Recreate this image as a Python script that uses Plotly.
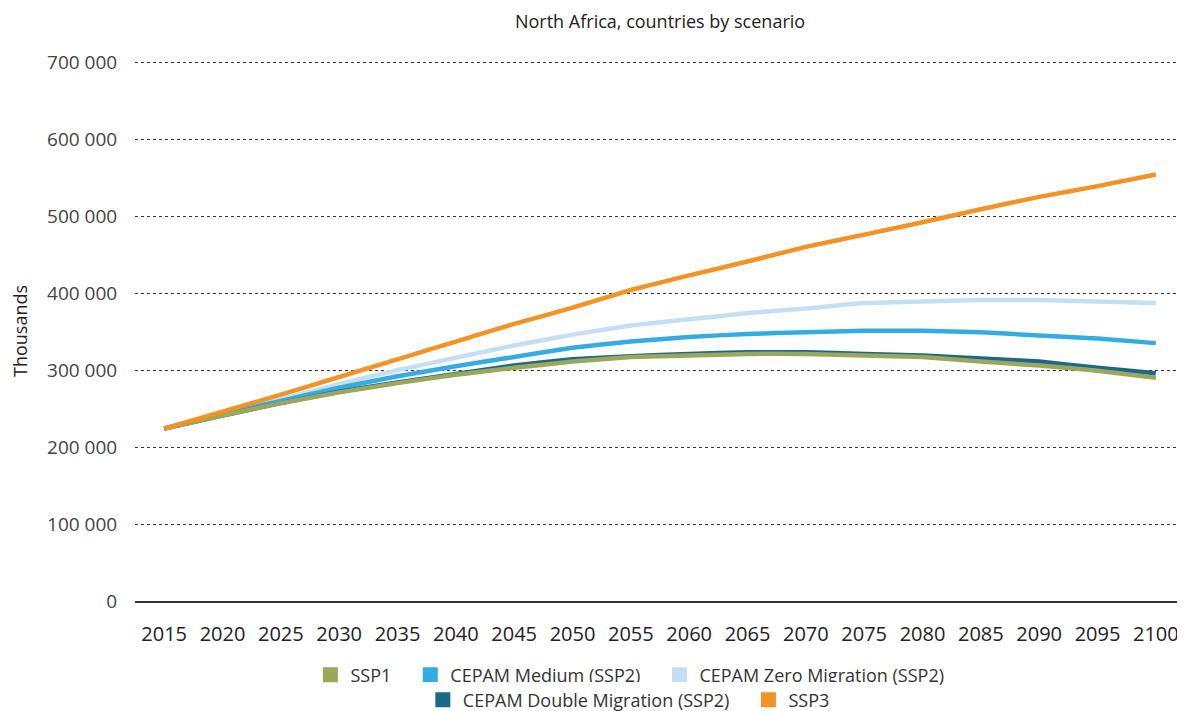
import plotly.graph_objects as go

years = [str(y) for y in range(2015, 2101, 5)]
ssp1 = [224, 241, 257, 271, 283, 294, 303, 311, 317, 319, 321, 321, 319, 317, 311, 306, 299, 290]
cepam_medium = [224, 243, 260, 277, 292, 305, 317, 329, 337, 343, 347, 349, 351, 351, 349, 345, 341, 335]
cepam_zero = [224, 244, 262, 282, 300, 316, 332, 346, 358, 366, 374, 380, 387, 389, 391, 391, 389, 387]
cepam_double = [224, 241, 257, 272, 284, 295, 306, 314, 318, 321, 323, 323, 321, 319, 315, 311, 303, 296]
ssp3 = [224, 246, 268, 291, 314, 337, 360, 381, 404, 423, 441, 460, 476, 492, 509, 525, 539, 554]

y_ticks = [0, 100000, 200000, 300000, 400000, 500000, 600000, 700000]
y_tick_labels = ["0", "100 000", "200 000", "300 000", "400 000", "500 000", "600 000", "700 000"]

series = [
    ("SSP1", ssp1, "#9BA75B", "legend"),
    ("CEPAM Medium (SSP2)", cepam_medium, "#33ACE3", "legend"),
    ("CEPAM Zero Migration (SSP2)", cepam_zero, "#C4DFF4", "legend"),
    ("CEPAM Double Migration (SSP2)", cepam_double, "#1C6889", "legend2"),
    ("SSP3", ssp3, "#F39325", "legend2"),
]
draw_order = [2, 1, 3, 0, 4]

font = "'Open Sans', Lato, sans-serif"
fig = go.Figure()
for i in draw_order:
    name, vals, color, _ = series[i]
    fig.add_trace(go.Scatter(
        x=years, y=[v * 1000 for v in vals], mode="lines", name=name,
        line=dict(color=color, width=4.5, shape="spline", smoothing=0.3),
        showlegend=False,
    ))
for name, vals, color, lg in series:
    fig.add_trace(go.Scatter(
        x=[None], y=[None], mode="markers", name=name + "\u00a0" * 3,
        marker=dict(symbol="square", size=15, color=color),
        legend=lg, showlegend=True,
    ))

fig.update_layout(
    width=1177, height=703,
    paper_bgcolor="white", plot_bgcolor="white",
    margin=dict(l=127, r=0, t=53, b=110, autoexpand=False),
    font=dict(family=font, color="#222", size=17),
    title=dict(text="North Africa, countries by scenario", x=0.554, xanchor="center",
               y=1 - 14 / 703, yanchor="middle", font=dict(size=18, color="#222")),
    xaxis=dict(type="category", range=[-0.5, 17.5], showgrid=False, automargin=False,
               showline=True, linecolor="#333", linewidth=1.5,
               ticks="outside", ticklen=14, tickcolor="rgba(0,0,0,0)",
               tickfont=dict(size=20, color="#222")),
    yaxis=dict(range=[0, 701500], tickvals=y_ticks, ticktext=y_tick_labels, automargin=False,
               showgrid=True, gridcolor="#333", griddash="dot", gridwidth=1,
               zeroline=False, ticks="outside", ticklen=13, tickcolor="rgba(0,0,0,0)",
               tickfont=dict(size=19, color="#444"),
               title=dict(text="Thousands", font=dict(size=18, color="#222"), standoff=14)),
    legend=dict(orientation="h", x=0.478, xanchor="center", yref="container",
                y=1 - 667 / 703, yanchor="middle",
                font=dict(size=18, color="#333"), itemwidth=30),
    legend2=dict(orientation="h", x=0.477, xanchor="center", yref="container",
                 y=1 - 692 / 703, yanchor="middle",
                 font=dict(size=18, color="#333"), itemwidth=30),
)

fig.write_html("out.html")
